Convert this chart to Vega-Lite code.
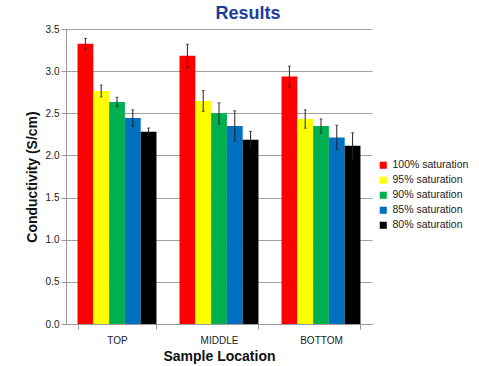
{
  "$schema": "https://vega.github.io/schema/vega-lite/v6.json",
  "autosize": {"type": "none"},
  "padding": {"left": 66, "top": 29, "right": 107, "bottom": 42},
  "width": 306,
  "height": 295,
  "background": "white",
  "title": {
    "text": "Results",
    "font": "Liberation Sans",
    "fontSize": 18,
    "fontWeight": "bold",
    "color": "#1a3e9a",
    "anchor": "middle",
    "dx": 29,
    "offset": 1
  },
  "config": {
    "font": "Liberation Sans",
    "view": {"stroke": null}
  },
  "data": {
    "values": [
      {"loc": "TOP", "sat": "100% saturation", "v": 3.325, "e": 0.063},
      {"loc": "TOP", "sat": "95% saturation", "v": 2.765, "e": 0.07},
      {"loc": "TOP", "sat": "90% saturation", "v": 2.635, "e": 0.055},
      {"loc": "TOP", "sat": "85% saturation", "v": 2.444, "e": 0.097},
      {"loc": "TOP", "sat": "80% saturation", "v": 2.281, "e": 0.044},
      {"loc": "MIDDLE", "sat": "100% saturation", "v": 3.182, "e": 0.137},
      {"loc": "MIDDLE", "sat": "95% saturation", "v": 2.646, "e": 0.123},
      {"loc": "MIDDLE", "sat": "90% saturation", "v": 2.5, "e": 0.125},
      {"loc": "MIDDLE", "sat": "85% saturation", "v": 2.35, "e": 0.18},
      {"loc": "MIDDLE", "sat": "80% saturation", "v": 2.186, "e": 0.1},
      {"loc": "BOTTOM", "sat": "100% saturation", "v": 2.936, "e": 0.123},
      {"loc": "BOTTOM", "sat": "95% saturation", "v": 2.432, "e": 0.109},
      {"loc": "BOTTOM", "sat": "90% saturation", "v": 2.35, "e": 0.083},
      {"loc": "BOTTOM", "sat": "85% saturation", "v": 2.214, "e": 0.145},
      {"loc": "BOTTOM", "sat": "80% saturation", "v": 2.114, "e": 0.155}
    ]
  },
  "encoding": {
    "x": {
      "field": "loc",
      "type": "nominal",
      "sort": ["TOP", "MIDDLE", "BOTTOM"],
      "scale": {"paddingInner": 0.226, "paddingOuter": 0.113},
      "axis": {
        "title": "Sample Location",
        "titleFontSize": 14,
        "titleFontWeight": "bold",
        "titleColor": "#111111",
        "titlePadding": 4,
        "labelAngle": 0,
        "labelFontSize": 10,
        "labelColor": "#222222",
        "labelPadding": 6,
        "tickBand": "extent",
        "tickSize": 5,
        "tickColor": "#999999",
        "domainColor": "#999999",
        "grid": false
      }
    },
    "xOffset": {
      "field": "sat",
      "type": "nominal",
      "sort": ["100% saturation", "95% saturation", "90% saturation", "85% saturation", "80% saturation"],
      "scale": {"paddingInner": 0, "paddingOuter": 0}
    }
  },
  "layer": [
    {
      "mark": {"type": "bar"},
      "encoding": {
        "y": {
          "field": "v",
          "type": "quantitative",
          "title": "Conductivity (S/cm)",
          "scale": {"domain": [0, 3.5], "nice": false},
          "axis": {
            "title": "Conductivity (S/cm)",
            "titleFontSize": 14,
            "titleFontWeight": "bold",
            "titleColor": "#111111",
            "titlePadding": 6,
            "values": [0, 0.5, 1, 1.5, 2, 2.5, 3, 3.5],
            "format": ".1f",
            "labelFontSize": 10,
            "labelColor": "#222222",
            "tickSize": 5,
            "tickColor": "#999999",
            "domainColor": "#999999",
            "gridColor": "#a0a0a0",
            "gridWidth": 1
          }
        },
        "color": {
          "field": "sat",
          "type": "nominal",
          "sort": ["100% saturation", "95% saturation", "90% saturation", "85% saturation", "80% saturation"],
          "scale": {
            "domain": ["100% saturation", "95% saturation", "90% saturation", "85% saturation", "80% saturation"],
            "range": ["#ff0000", "#ffff00", "#00b050", "#0070c0", "#000000"]
          },
          "legend": {
            "title": null,
            "symbolType": "square",
            "symbolSize": 50,
            "symbolStrokeWidth": 0,
            "labelFontSize": 10.5,
            "labelColor": "#222222",
            "rowPadding": 4,
            "orient": "none",
            "legendX": 312,
            "legendY": 131
          }
        }
      }
    },
    {
      "transform": [
        {"calculate": "datum.v - datum.e", "as": "lo"},
        {"calculate": "datum.v + datum.e", "as": "hi"}
      ],
      "mark": {"type": "errorbar", "ticks": {"size": 3, "color": "#222222"}, "color": "#222222", "thickness": 1},
      "encoding": {
        "y": {"field": "lo", "type": "quantitative", "title": "Conductivity (S/cm)"},
        "y2": {"field": "hi"}
      }
    }
  ]
}
